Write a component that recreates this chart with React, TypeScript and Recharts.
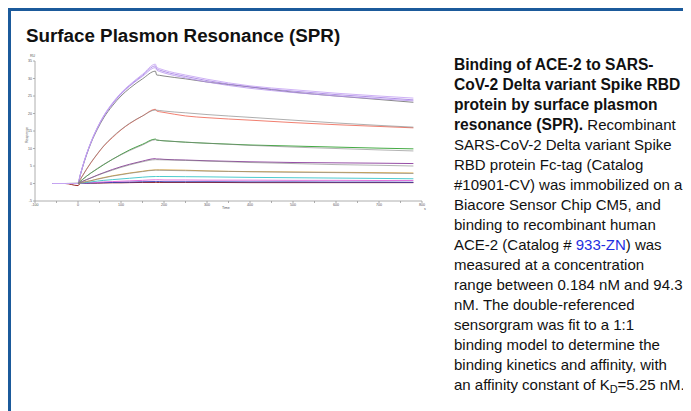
import React from 'react';
import { LineChart, Line, XAxis, YAxis } from 'recharts';

const TIMES = [-60, -30, 0, 5, 10, 20, 30, 45, 60, 80, 100, 120, 150, 180, 183, 190, 200, 250, 300, 400, 500, 600, 700, 780];

// measured responses (RU)
const S1 = [0, 0, 0, 2.4, 4.6, 8.5, 11.8, 16.0, 19.4, 23.0, 25.9, 28.2, 31.2, 34.1, 33.2, 32.8, 32.4, 31.0, 29.8, 27.9, 26.8, 25.8, 25.0, 24.4];
const S2 = [0, 0, 0, 2.35, 4.55, 8.45, 11.75, 15.9, 19.3, 22.8, 25.7, 28.0, 30.9, 33.6, 32.8, 32.4, 32.0, 30.6, 29.4, 27.6, 26.4, 25.4, 24.6, 23.9];
const S2B = [0, 0, 0, 2.3, 4.5, 8.4, 11.7, 15.8, 19.2, 22.6, 25.5, 27.8, 30.6, 33.1, 32.4, 32.0, 31.6, 30.2, 29.0, 27.2, 26.0, 25.0, 24.2, 23.6];
const S3 = [0, 0, 0.1, 2.3, 4.4, 8.2, 11.5, 15.5, 18.8, 22.2, 25.0, 27.2, 29.9, 32.1, 31.0, 30.9, 30.7, 29.9, 29.0, 27.6, 26.1, 25.0, 24.0, 23.2];
const S4 = [0, 0, 0, 1.1, 2.1, 4.1, 5.9, 8.4, 10.7, 13.1, 15.3, 17.1, 19.3, 21.2, 20.7, 20.5, 20.3, 19.3, 18.8, 18.1, 17.4, 16.8, 16.3, 15.9];
const S5 = [0, 0, 0, 0.6, 1.1, 2.1, 3.0, 4.2, 5.4, 6.9, 8.3, 9.6, 11.2, 12.7, 12.4, 12.3, 12.2, 11.8, 11.5, 11.0, 10.7, 10.4, 10.1, 9.9];
const S6 = [0, 0, 0, 0.3, 0.6, 1.1, 1.6, 2.4, 3.1, 4.0, 4.8, 5.5, 6.4, 7.1, 7.0, 7.0, 6.9, 6.7, 6.5, 6.2, 6.0, 5.9, 5.8, 5.7];
const S7 = [0, 0, 0, 0.15, 0.3, 0.6, 0.8, 1.3, 1.7, 2.2, 2.6, 3.0, 3.5, 3.9, 3.9, 3.9, 3.9, 3.8, 3.6, 3.4, 3.3, 3.2, 3.1, 3.0];
const S8 = [0, 0, 0, 0.1, 0.15, 0.3, 0.45, 0.7, 0.9, 1.1, 1.3, 1.5, 1.8, 2.0, 2.0, 2.0, 2.0, 1.95, 1.9, 1.75, 1.65, 1.55, 1.45, 1.35];
const S9 = [0, 0, 0, 0.05, 0.1, 0.2, 0.25, 0.35, 0.45, 0.55, 0.65, 0.75, 0.9, 1.05, 1.05, 1.05, 1.0, 1.0, 0.95, 0.95, 0.9, 0.9, 0.85, 0.85];
const S10 = [0, 0, 0, 0.05, 0.05, 0.1, 0.15, 0.2, 0.25, 0.3, 0.35, 0.4, 0.5, 0.55, 0.55, 0.55, 0.5, 0.5, 0.5, 0.45, 0.45, 0.4, 0.4, 0.35];
const S11 = [0, 0, -0.6, 0, 0.05, 0.05, 0.1, 0.1, 0.15, 0.2, 0.2, 0.25, 0.3, 0.3, 0.3, 0.3, 0.3, 0.3, 0.3, 0.25, 0.25, 0.25, 0.25, 0.25];

// 1:1 model fits (RU)
const F4 = [null, null, 0, 1.1, 2.1, 4.1, 6.0, 8.5, 10.8, 13.3, 15.4, 17.2, 19.3, 21.0, 20.95, 20.85, 20.7, 20.2, 19.7, 18.9, 18.1, 17.3, 16.6, 16.1];
const F5 = [null, null, 0, 0.55, 1.1, 2.1, 3.0, 4.3, 5.5, 6.9, 8.2, 9.4, 11.0, 12.5, 12.45, 12.3, 12.2, 11.8, 11.5, 10.9, 10.4, 10.0, 9.6, 9.3];
const F6 = [null, null, 0, 0.3, 0.55, 1.1, 1.6, 2.3, 3.0, 3.8, 4.6, 5.3, 6.2, 6.8, 6.8, 6.78, 6.75, 6.6, 6.4, 6.0, 5.7, 5.4, 5.2, 5.0];
const F7 = [null, null, 0, 0.15, 0.3, 0.55, 0.8, 1.2, 1.6, 2.1, 2.5, 2.9, 3.4, 3.8, 3.8, 3.78, 3.75, 3.65, 3.55, 3.35, 3.2, 3.1, 2.95, 2.85];

const SERIES: { key: string; values: (number | null)[]; color: string; width: number }[] = [
  { key: 's11', values: S11, color: '#8b0a0a', width: 0.9 },
  { key: 's10', values: S10, color: '#2a3bb8', width: 0.9 },
  { key: 's9', values: S9, color: '#e060d8', width: 0.9 },
  { key: 's8', values: S8, color: '#39c4c8', width: 0.9 },
  { key: 's7', values: S7, color: '#d9a640', width: 0.9 },
  { key: 's6', values: S6, color: '#8a3a9c', width: 0.9 },
  { key: 's5', values: S5, color: '#2fa02f', width: 0.9 },
  { key: 's4', values: S4, color: '#ef7060', width: 0.9 },
  { key: 's3', values: S3, color: '#6a6a6a', width: 0.8 },
  { key: 's2b', values: S2B, color: '#b592ee', width: 0.8 },
  { key: 's2', values: S2, color: '#9f78e2', width: 0.8 },
  { key: 's1', values: S1, color: '#c8a8f4', width: 0.9 },
  { key: 'f7', values: F7, color: '#808080', width: 0.6 },
  { key: 'f6', values: F6, color: '#808080', width: 0.6 },
  { key: 'f5', values: F5, color: '#808080', width: 0.6 },
  { key: 'f4', values: F4, color: '#777777', width: 0.6 },
];

const X_TICKS = [-100, -50, 0, 50, 100, 150, 200, 250, 300, 350, 400, 450, 500, 550, 600, 650, 700, 750, 800];
const Y_TICKS = [-5, 0, 5, 10, 15, 20, 25, 30, 35];

const rows = TIMES.map((t, i) => {
  const r: Record<string, number | null> = { t };
  SERIES.forEach((s) => {
    r[s.key] = s.values[i];
  });
  return r;
});

const FONT = '"Liberation Sans", Arial, sans-serif';
const B: React.CSSProperties = { fontWeight: 'bold', fontSize: 15.6 };

const TEXT_LINES: React.ReactNode[] = [
  <span key="a" style={B}>Binding of ACE-2 to SARS-</span>,
  <span key="b" style={B}>CoV-2 Delta variant Spike RBD</span>,
  <span key="c" style={B}>protein by surface plasmon</span>,
  <span key="d"><span style={B}>resonance (SPR).</span> Recombinant</span>,
  'SARS-CoV-2 Delta variant Spike',
  'RBD protein Fc-tag (Catalog',
  '#10901-CV) was immobilized on a',
  'Biacore Sensor Chip CM5, and',
  'binding to recombinant human',
  <span key="e">ACE-2 (Catalog # <span style={{ color: '#1f2fe0' }}>933-ZN</span>) was</span>,
  'measured at a concentration',
  'range between 0.184 nM and 94.3',
  'nM. The double-referenced',
  'sensorgram was fit to a 1:1',
  'binding model to determine the',
  'binding kinetics and affinity, with',
  <span key="f">an affinity constant of K<sub style={{ fontSize: 11, verticalAlign: -3, lineHeight: 0 }}>D</sub>=5.25 nM.</span>,
];

const tickStyle = { fontSize: 3.6, fill: '#555', fontFamily: FONT };

export default function App() {
  return (
    <div style={{ position: 'relative', width: 683, height: 403, fontFamily: FONT, background: '#fff', overflow: 'hidden' }}>
      <div
        style={{
          position: 'absolute',
          left: 0,
          top: 0,
          width: 683,
          height: 403,
          boxSizing: 'border-box',
          borderTop: '3px solid #1b5a9b',
          borderLeft: '3px solid #1b5a9b',
        }}
      />
      <div
        style={{
          position: 'absolute',
          left: 18,
          top: 18,
          fontSize: 18.8,
          lineHeight: '20px',
          fontWeight: 'bold',
          color: '#111',
          whiteSpace: 'nowrap',
        }}
      >
        Surface Plasmon Resonance (SPR)
      </div>

      <div style={{ position: 'absolute', left: 0, top: 42 }}>
        <LineChart width={432} height={170} data={rows} margin={{ top: 11, right: 18, bottom: 9, left: 7 }}>
          <XAxis
            dataKey="t"
            type="number"
            domain={[-100, 800]}
            ticks={X_TICKS}
            interval={0}
            tickFormatter={(v: number) => (v % 100 === 0 ? String(v) : '')}
            tick={tickStyle}
            tickSize={2}
            tickMargin={0.5}
            height={10}
            stroke="#999"
            strokeWidth={0.8}
          />
          <YAxis
            type="number"
            domain={[-5, 35]}
            ticks={Y_TICKS}
            interval={0}
            tick={tickStyle}
            tickSize={2}
            tickMargin={1}
            width={20}
            stroke="#999"
            strokeWidth={0.8}
          />
          {SERIES.map((s) => (
            <Line
              key={s.key}
              dataKey={s.key}
              type="monotone"
              stroke={s.color}
              strokeWidth={s.width}
              dot={false}
              isAnimationActive={false}
              connectNulls={false}
            />
          ))}
        </LineChart>
      </div>

      <div style={{ position: 'absolute', left: 22, top: 46, fontSize: 3.6, color: '#555' }}>RU</div>
      <div
        style={{
          position: 'absolute',
          left: 4,
          top: 125,
          width: 30,
          textAlign: 'center',
          fontSize: 3.6,
          color: '#555',
          transform: 'rotate(-90deg)',
        }}
      >
        Response
      </div>
      <div style={{ position: 'absolute', left: 214, top: 198, fontSize: 3.6, color: '#555' }}>Time</div>
      <div style={{ position: 'absolute', left: 416, top: 199, fontSize: 3.6, color: '#555' }}>s</div>

      <div
        style={{
          position: 'absolute',
          left: 446,
          top: 47,
          fontSize: 15,
          lineHeight: '20px',
          color: '#111',
          whiteSpace: 'nowrap',
        }}
      >
        {TEXT_LINES.map((l, i) => (
          <div key={i} style={{ height: 20 }}>{l}</div>
        ))}
      </div>
    </div>
  );
}
